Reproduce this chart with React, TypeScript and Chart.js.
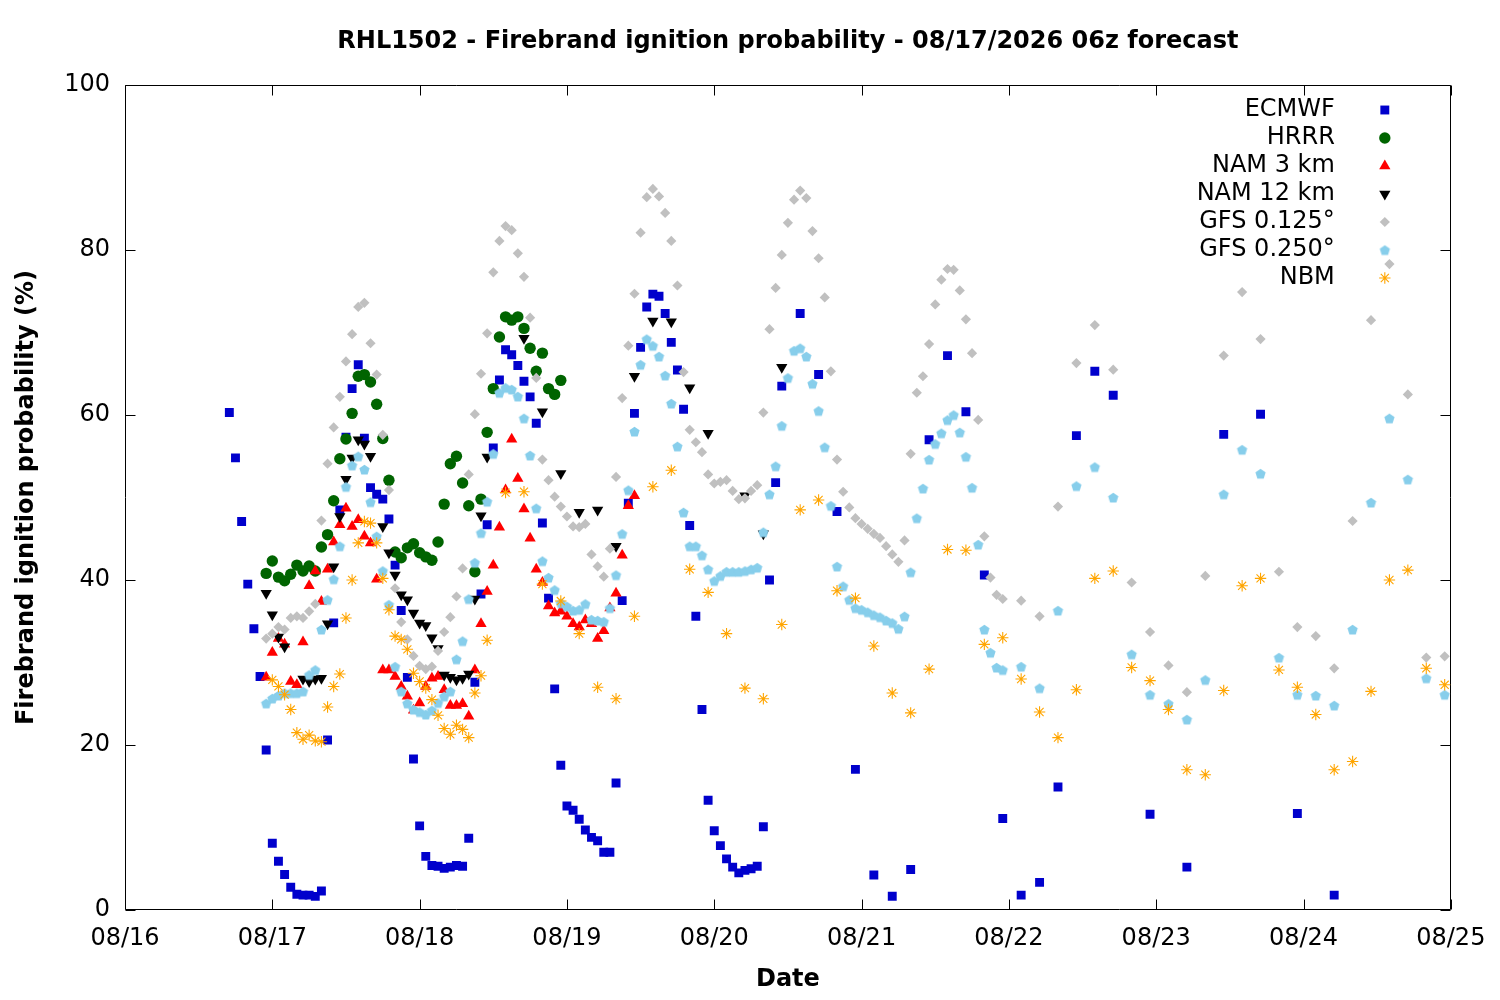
import React, { useEffect, useRef } from 'react';
import { Chart, registerables } from 'chart.js';
import { drawPoint } from 'chart.js/helpers';

Chart.register(...registerables);

const FONT = "'DejaVu Sans', 'Liberation Sans', sans-serif";
const TITLE = 'RHL1502 - Firebrand ignition probability - 08/17/2026 06z forecast';
const X_TITLE = 'Date';
const Y_TITLE = 'Firebrand ignition probability (%)';

// x axis: hours since 08/16 00z
const xTickLabels = ['08/16', '08/17', '08/18', '08/19', '08/20', '08/21', '08/22', '08/23', '08/24', '08/25'];
const yTickValues = [0, 20, 40, 60, 80, 100];

function hourSteps(start: number, end: number, step: number): number[] {
  const out: number[] = [];
  for (let h = start; h <= end; h += step) out.push(h);
  return out;
}

// ECMWF
const ecmwfHours = [...hourSteps(17, 107, 1), ...hourSteps(110, 161, 3), ...hourSteps(167, 197, 6)];
const ecmwfValues = [
  60.3, 54.8, 47.1, 39.5, 34.1, 28.3, 19.4, 8.1, 5.9, 4.3,
  2.75, 1.9, 1.8, 1.8, 1.65, 2.3, 20.6, 34.8, 48.5, 57.3,
  63.2, 66.1, 57.2, 51.2, 50.4, 49.8, 47.4, 41.8, 36.3, 28.2,
  18.3, 10.2, 6.5, 5.4, 5.3, 5.05, 5.2, 5.4, 5.3, 8.7,
  27.6, 38.3, 46.7, 56, 64.25, 67.9, 67.3, 66, 64.1, 62.2,
  59, 46.9, 37.8, 26.8, 17.55, 12.6, 12.1, 11, 9.7, 8.8,
  8.4, 7, 7, 15.4, 37.5, 49.3, 60.2, 68.2, 73.1, 74.65,
  74.4, 72.3, 68.8, 65.45, 60.7, 46.6, 35.6, 24.3, 13.3, 9.6,
  7.8, 6.2, 5.2, 4.5, 4.8, 5, 5.3, 10.1, 40, 51.8,
  63.5,
  72.3, 64.9, 48.3, 17.05, 4.25, 1.66, 4.9, 57, 67.2, 60.4, 40.6, 11.1, 1.8, 3.35, 14.9, 57.5, 65.3, 62.4,
  11.6, 5.2, 57.65, 60.1, 11.7, 1.8,
];

// HRRR
const hrrrHours = hourSteps(23, 71, 1);
const hrrrValues = [
  40.8, 42.3, 40.35, 39.9, 40.7, 41.8, 41.1, 41.7, 41.1, 44,
  45.5, 49.6, 54.7, 57.1, 60.2, 64.7, 64.9, 64, 61.3, 57.15,
  52.1, 43.4, 42.7, 43.9, 44.4, 43.3, 42.8, 42.4, 44.6, 49.2,
  54.1, 55, 51.75, 49, 41, 49.8, 57.9, 63.2, 69.45, 71.9,
  71.5, 71.9, 70.5, 68.1, 65.3, 67.5, 63.2, 62.5, 64.2,
];

// NAM 3 km
const nam3Hours = hourSteps(23, 83, 1);
const nam3Values = [
  28.2, 31.2, 32.9, 32.2, 27.7, 27.3, 32.5, 39.3, 41.1, 37.4,
  41.3, 44.6, 46.7, 48.7, 46.5, 47.3, 45.3, 44.5, 40.1, 29.1,
  29.1, 28.3, 27.1, 25.9, 24.2, 25.1, 27.1, 28.1, 28.3, 26.7,
  24.8, 24.8, 25, 23.5, 29.1, 34.7, 38.6, 41.8, 46.4, 50.9,
  57.05, 52.3, 48.6, 45.05, 41.3, 39.7, 36.85, 36, 36.2, 35.6,
  34.7, 34.3, 35.15, 34.7, 32.9, 33.85, 36.6, 38.4, 43, 49, 50.2,
];

// NAM 12 km (gaps where the model has no value)
const nam12Hours = [
  23, 24, 25, 26, 29, 30, 31, 32, 33, 34, 35, 36, 37, 38, 39, 40,
  42, 43, 44, 45, 46, 47, 48, 49, 50, 51, 52, 53, 54, 55, 56, 57, 58, 59,
  65, 68, 71, 74, 77, 80, 83, 86, 89, 92, 95, 101, 104, 107,
];
const nam12Values = [
  38.4, 35.8, 33.1, 31.9, 28, 27.7, 28, 28.1, 34.7, 41.6, 47.7, 52.2, 54.8, 57, 56.5, 55,
  46.5, 43.3, 40.6, 38.2, 37.6, 36, 34.8, 34.5, 33, 31.7, 28.5, 28.2, 27.9, 28.1, 28.6, 37.7, 47.8, 54.9,
  69.3, 60.4, 52.9, 48.2, 48.5, 44.1, 64.7, 71.4, 71.3, 63.3, 57.8, 50.2, 45.6, 65.8,
];

// GFS 0.125
const gfs125Hours = [...hourSteps(23, 143, 1), ...hourSteps(146, 215, 3)];
const gfs125Values = [
  32.9, 33.5, 34.3, 34, 35.4, 35.6, 35.4, 36.2, 37.1, 47.2,
  54.1, 58.5, 62.2, 66.5, 69.8, 73.1, 73.6, 68.7, 64.9, 57.6,
  50.9, 39, 34.9, 32.8, 30.8, 29.6, 29.2, 29.5, 31.4, 33.7,
  35.5, 38, 41.4, 52.8, 60.1, 65, 69.9, 77.3, 81.1, 82.9,
  82.4, 79.6, 76.75, 71.8, 64.5, 54.6, 52.1, 50.1, 48.9, 47.7,
  46.5, 46.4, 46.8, 43.1, 41.65, 40.4, 43.8, 52.5, 62.05, 68.4,
  74.7, 82.1, 86.4, 87.4, 86.5, 84.5, 81.1, 75.7, 65.2, 58.2,
  56.7, 55.5, 52.8, 51.7, 51.9, 52.1, 50.8, 49.8, 49.9, 50.8,
  51.5, 60.3, 70.4, 75.4, 79.4, 83.3, 86.1, 87.2, 86.3, 82.3,
  79, 74.25, 65.3, 54.6, 50.7, 48.8, 47.5, 46.8, 46.2, 45.6,
  45.1, 44.1, 43.1, 42.2, 44.8, 55.3, 62.7, 64.7, 68.6, 73.4,
  76.4, 77.7, 77.6, 75.1, 71.6, 67.5, 59.4, 45.3, 40.3, 38.2,
  37.7,
  37.5, 35.6, 48.9, 66.3, 70.9, 65.5, 39.7, 33.7, 29.65, 26.4, 40.5, 67.2,
  74.9, 69.2, 41, 34.3, 33.2, 29.3, 47.15, 71.5, 78.3, 62.5, 30.6, 30.75,
];

// GFS 0.250
const gfs250Hours = [...hourSteps(23, 143, 1), ...hourSteps(146, 215, 3)];
const gfs250Values = [
  25.05, 25.65, 26, 26.3, 26.3, 26.3, 26.5, 28.5, 29.1, 34,
  37.6, 40.1, 44.1, 51.3, 53.9, 55, 53.4, 49.45, 45.3, 41.1,
  37, 29.5, 26.5, 25.05, 24.3, 24, 23.7, 24.2, 25.1, 25.9,
  26.5, 30.4, 32.6, 37.7, 42.1, 45.7, 49.5, 55.3, 62.7, 63.3,
  63.1, 62.25, 59.6, 55.1, 48.7, 42.3, 40.3, 38.8, 37.2, 36.8,
  36.3, 36.4, 37.1, 35.2, 35.1, 34.95, 36.6, 40.6, 45.6, 50.9,
  58, 66.1, 69.2, 68.4, 67.1, 64.8, 61.4, 56.2, 48.2, 44.1,
  44.1, 43, 41.3, 39.9, 40.5, 41, 41, 41, 41.1, 41.3,
  41.5, 45.8, 50.4, 53.8, 58.7, 64.5, 67.8, 68.1, 67.1, 63.8,
  60.5, 56.1, 49, 41.65, 39.25, 37.6, 36.6, 36.4, 36.1, 35.75,
  35.5, 35.1, 34.8, 34.1, 35.6, 40.95, 47.5, 51.1, 54.6, 56.5,
  57.8, 59.4, 60, 57.9, 54.95, 51.2, 44.3, 34, 31.2, 29.4,
  29.1,
  29.5, 26.9, 36.3, 51.4, 53.7, 50, 31, 26.1, 25, 23.1, 27.9, 50.4,
  55.8, 52.9, 30.6, 26.1, 26, 24.8, 34, 49.4, 59.6, 52.2, 28.1, 26.1,
];

// NBM
const nbmHours = [...hourSteps(24, 59, 1), ...hourSteps(62, 215, 3)];
const nbmValues = [
  27.9, 27.1, 26.1, 24.3, 21.5, 20.7, 21.2, 20.5, 20.4, 24.6,
  27.1, 28.6, 35.4, 40, 44.5, 47.1, 46.9, 44.5, 40.2, 36.4,
  33.2, 32.8, 31.6, 28.7, 27.7, 26.9, 25.5, 23.6, 22, 21.3,
  22.4, 21.9, 20.9, 26.3, 28.4, 32.7,
  50.6, 50.7, 39.5, 37.45, 33.5, 27, 25.6, 35.6, 51.3, 53.3,
  41.3, 38.5, 33.5, 26.9, 25.6, 34.6, 48.5, 49.7, 38.7, 37.8,
  32, 26.3, 23.9, 29.2, 43.7, 43.6, 32.2, 33, 28, 24,
  20.9, 26.7, 40.2, 41.1, 29.4, 27.8, 24.3, 17, 16.4, 26.6,
  39.3, 40.2, 29.1, 27, 23.7, 17, 18, 26.5, 40, 41.2,
  29.3, 27.3,
];

function makePentagon(color: string, r: number): HTMLCanvasElement {
  const size = Math.ceil(r * 2 + 2);
  const c = document.createElement('canvas');
  c.width = size;
  c.height = size;
  const g = c.getContext('2d')!;
  const cx = size / 2;
  const cy = size / 2 + r * 0.1;
  g.beginPath();
  for (let i = 0; i < 5; i++) {
    const a = -Math.PI / 2 + (i * 2 * Math.PI) / 5;
    const px = cx + r * Math.cos(a);
    const py = cy + r * Math.sin(a);
    if (i === 0) g.moveTo(px, py);
    else g.lineTo(px, py);
  }
  g.closePath();
  g.fillStyle = color;
  g.fill();
  return c;
}

const toPoints = (hours: number[], values: number[]) => hours.map((h, i) => ({ x: h, y: values[i] }));

const frameAndDecor = {
  id: 'frameAndDecor',
  beforeDatasetsDraw(chart: any) {
    const { ctx, chartArea: a, scales } = chart;
    const L = Math.round(a.left) + 0.5;
    const R = Math.round(a.right) - 0.5;
    const T = Math.round(a.top) + 0.5;
    const B = Math.round(a.bottom) - 0.5;
    const tl = 10;
    ctx.save();
    ctx.strokeStyle = '#000';
    ctx.lineWidth = 1;
    ctx.beginPath();
    ctx.rect(L, T, R - L, B - T);
    xTickLabels.forEach((_, i) => {
      const px = Math.round(scales.x.getPixelForValue(i * 24)) + 0.5;
      ctx.moveTo(px, B);
      ctx.lineTo(px, B - tl);
      ctx.moveTo(px, T);
      ctx.lineTo(px, T + tl);
    });
    yTickValues.forEach((v) => {
      const py = Math.round(scales.y.getPixelForValue(v)) + 0.5;
      ctx.moveTo(L, py);
      ctx.lineTo(L + tl, py);
      ctx.moveTo(R, py);
      ctx.lineTo(R - tl, py);
    });
    ctx.stroke();
    ctx.restore();
  },
  afterDraw(chart: any) {
    const { ctx, chartArea: a } = chart;
    ctx.save();
    // title
    ctx.fillStyle = '#000';
    ctx.font = `bold 24px ${FONT}`;
    ctx.textAlign = 'center';
    ctx.textBaseline = 'middle';
    ctx.fillText(TITLE, (a.left + a.right) / 2, 42);
    // legend (gnuplot style: text right-aligned, marker to the right)
    ctx.font = `24px ${FONT}`;
    ctx.textAlign = 'right';
    const textRight = a.right - 116;
    const markerX = a.right - 66;
    chart.data.datasets.forEach((ds: any, i: number) => {
      const y = a.top + 25 + i * 28;
      ctx.fillStyle = '#000';
      ctx.fillText(ds.label, textRight, y);
      ctx.fillStyle = ds.pointBackgroundColor;
      ctx.strokeStyle = ds.pointBorderColor;
      ctx.lineWidth = ds.pointBorderWidth;
      drawPoint(ctx, {
        pointStyle: ds.pointStyle,
        radius: ds.pointRadius,
        rotation: ds.pointRotation || 0,
        borderWidth: ds.pointBorderWidth,
      } as any, markerX, y);
    });
    ctx.restore();
  },
};

export default function App() {
  const ref = useRef<HTMLCanvasElement>(null);
  useEffect(() => {
    const canvas = ref.current!;
    const pentagon = makePentagon('#87ceeb', 5.4);
    const mk = (label: string, hours: number[], values: number[], color: string, style: any, radius: number, border: number, order: number, rotation = 0) => ({
      label,
      data: toPoints(hours, values),
      showLine: false,
      pointStyle: style,
      pointRadius: radius,
      pointHoverRadius: radius,
      pointRotation: rotation,
      pointBackgroundColor: color,
      pointBorderColor: color,
      pointBorderWidth: border,
      backgroundColor: color,
      borderColor: color,
      order,
    });
    const chart = new Chart(canvas, {
      type: 'scatter',
      data: {
        datasets: [
          mk('ECMWF', ecmwfHours, ecmwfValues, '#0000cc', 'rect', 6.3, 0, 7),
          mk('HRRR', hrrrHours, hrrrValues, '#006400', 'circle', 5.7, 0, 6),
          mk('NAM 3 km', nam3Hours, nam3Values, '#ff0000', 'triangle', 6.5, 0, 5),
          mk('NAM 12 km', nam12Hours, nam12Values, '#000000', 'triangle', 6.5, 0, 4, 180),
          mk('GFS 0.125°', gfs125Hours, gfs125Values, '#c0c0c0', 'rectRot', 5.1, 0, 3),
          mk('GFS 0.250°', gfs250Hours, gfs250Values, '#87ceeb', pentagon, 5.4, 0, 2),
          mk('NBM', nbmHours, nbmValues, '#ffa500', 'star', 5.7, 1.1, 1),
        ] as any,
      },
      options: {
        animation: false,
        responsive: false,
        events: [],
        layout: { padding: { top: 85, right: 46, left: 0, bottom: 0 } },
        plugins: {
          legend: { display: false },
          title: { display: false },
          tooltip: { enabled: false },
        },
        scales: {
          x: {
            type: 'linear',
            min: 0,
            max: 216,
            grid: { display: false, drawTicks: false },
            border: { display: false },
            ticks: {
              stepSize: 24,
              autoSkip: false,
              maxRotation: 0,
              color: '#000',
              padding: 14.6,
              font: { family: FONT, size: 24 },
              callback: (_v: any, i: number) => xTickLabels[i],
            },
            title: {
              display: true,
              text: X_TITLE,
              color: '#000',
              font: { family: FONT, size: 24, weight: 'bold' },
              padding: { top: 0, bottom: 5.6 },
            },
            afterFit: (s: any) => { s.height = 90; },
          },
          y: {
            min: 0,
            max: 100,
            grid: { display: false, drawTicks: false },
            border: { display: false },
            ticks: {
              stepSize: 20,
              color: '#000',
              padding: 15,
              font: { family: FONT, size: 24 },
            },
            title: {
              display: true,
              text: Y_TITLE,
              color: '#000',
              font: { family: FONT, size: 24, weight: 'bold' },
              padding: { top: 12.6, bottom: 0 },
            },
            afterFit: (s: any) => { s.width = 125; },
          },
        },
      } as any,
      plugins: [frameAndDecor],
    });
    return () => chart.destroy();
  }, []);
  return (
    <div style={{ position: 'absolute', left: 0, top: 0, width: 1500, height: 1000, background: '#fff' }}>
      <canvas ref={ref} width={1500} height={1000} style={{ display: 'block' }} />
    </div>
  );
}
